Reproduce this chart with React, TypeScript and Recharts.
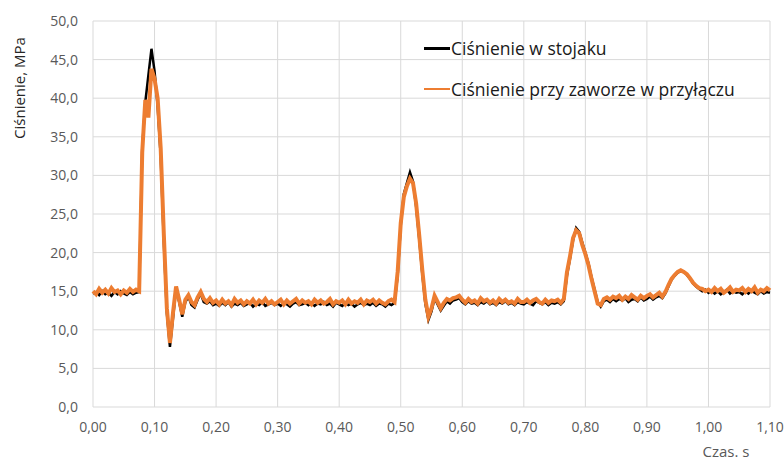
import { LineChart, Line, XAxis, YAxis, CartesianGrid, Legend, Label } from 'recharts'

// sampling step of both pressure traces, seconds
const STEP_MS = 5

// Ciśnienie w stojaku, MPa (one value per 5 ms, from 0,000 s to 1,100 s)
const standPressure = [
    14.7, 14.9, 14.5, 15.0, 14.6, 14.8, 14.4, 14.9, 14.6, 15.0,
    14.7, 14.5, 14.9, 14.6, 14.8, 14.9, 33.5, 39.5, 43.0, 46.4,
    43.5, 39.0, 32.5, 21.5, 12.2, 7.8, 11.5, 15.4, 13.6, 11.7,
    13.6, 14.3, 13.2, 12.9, 13.9, 14.7, 13.6, 13.4, 13.7, 13.2,
    13.4, 13.1, 13.5, 13.2, 13.6, 13.0, 13.4, 13.2, 13.5, 13.1,
    13.3, 13.5, 13.0, 13.4, 13.2, 13.6, 13.1, 13.3, 13.5, 13.2,
    13.4, 13.1, 13.5, 13.3, 13.0, 13.4, 13.6, 13.2, 13.3, 13.5,
    13.2, 13.5, 13.1, 13.4, 13.3, 13.6, 13.2, 13.4, 13.0, 13.5,
    13.3, 13.1, 13.5, 13.2, 13.4, 13.0, 13.3, 13.5, 13.2, 13.4,
    13.2, 13.5, 13.1, 13.4, 13.3, 13.0, 13.4, 13.2, 13.5, 17.0,
    23.5, 27.6, 29.0, 30.4, 29.2, 26.0, 21.8, 17.3, 13.4, 11.3,
    12.4, 14.1, 13.3, 12.5, 13.1, 13.7, 13.4, 13.8, 13.9, 14.1,
    13.6, 13.3, 13.7, 13.4, 13.5, 13.2, 13.6, 13.4, 13.7, 13.3,
    13.5, 13.2, 13.6, 13.4, 13.7, 13.3, 13.5, 13.2, 13.6, 13.4,
    13.3, 13.6, 13.4, 13.2, 13.7, 13.5, 13.3, 13.6, 13.2, 13.5,
    13.4, 13.6, 13.3, 13.7, 17.0, 19.2, 21.6, 23.2, 22.7, 21.3,
    20.0, 18.6, 16.8, 15.2, 13.6, 13.0, 13.7, 13.9, 13.6, 14.0,
    13.7, 14.0, 13.8, 14.1, 13.6, 13.9, 14.0, 13.7, 14.2, 13.8,
    14.0, 14.3, 13.9, 14.2, 14.4, 14.1, 14.7, 15.6, 16.5, 17.0,
    17.4, 17.6, 17.5, 17.1, 16.6, 16.0, 15.6, 15.3, 15.0, 15.2,
    14.8, 15.1, 14.7, 15.0, 14.6, 14.9, 15.2, 14.7, 15.0, 14.8,
    14.9, 14.6, 15.0, 14.7, 15.1, 14.8, 14.6, 15.0, 14.7, 14.9, 14.8,
]

// Ciśnienie przy zaworze w przyłączu, MPa
const valvePressure = [
    15.0, 14.6, 15.3, 14.8, 15.2, 14.7, 15.4, 14.9, 15.1, 14.6,
    15.1, 14.8, 15.3, 14.9, 15.2, 15.0, 33.0, 39.8, 37.5, 43.8,
    42.5, 40.0, 33.5, 22.5, 12.8, 8.3, 12.2, 15.6, 13.9, 12.0,
    13.9, 14.5, 13.6, 13.2, 14.2, 14.9, 14.0, 13.6, 14.1, 13.5,
    13.8, 13.3, 13.9, 13.4, 13.7, 13.2, 14.0, 13.5, 13.8, 13.3,
    13.7, 13.4, 13.9, 13.3, 13.8, 13.5, 14.0, 13.4, 13.7, 13.3,
    13.6, 13.9, 13.3, 13.8, 13.4, 13.7, 14.0, 13.4, 13.8, 13.5,
    13.7, 13.3, 13.9, 13.5, 13.8, 13.4, 13.6, 14.0, 13.3, 13.7,
    13.5, 13.8, 13.3, 13.9, 13.4, 13.7, 13.5, 13.9, 13.3, 13.8,
    13.6, 13.9, 13.4, 13.8, 13.5, 13.3, 13.7, 13.9, 13.6, 17.5,
    23.8, 27.2, 28.6, 29.6, 29.0, 26.4, 22.3, 17.8, 13.9, 11.7,
    12.8, 14.4, 13.6, 12.8, 13.5, 14.0, 13.8, 14.1, 14.2, 14.4,
    13.9, 13.5, 14.0, 13.6, 13.8, 13.4, 14.1, 13.7, 13.9, 13.5,
    13.8, 13.4, 14.0, 13.6, 13.9, 13.5, 13.7, 13.4, 14.0, 13.6,
    13.6, 13.9, 13.5, 13.8, 14.0, 13.6, 13.4, 13.9, 13.5, 13.8,
    13.7, 13.9, 13.5, 14.0, 17.4, 19.5, 21.9, 22.9, 22.5, 21.0,
    19.8, 18.4, 16.6, 15.0, 13.4, 13.2, 14.0, 14.2, 13.9, 14.3,
    14.1, 14.4, 13.9, 14.3, 14.0, 14.5, 14.2, 13.9, 14.4, 14.1,
    14.4, 14.6, 14.2, 14.5, 14.8, 14.3, 14.9, 15.8, 16.6, 17.1,
    17.5, 17.7, 17.5, 17.2, 16.7, 16.1, 15.7, 15.4, 15.3, 15.0,
    15.2, 14.9, 15.4, 15.0, 15.3, 14.8, 15.1, 15.5, 14.9, 15.2,
    15.1, 15.4, 14.9, 15.3, 15.0, 15.5, 14.8, 15.2, 15.0, 15.4, 15.1,
]

const xTicks = [0, 0.1, 0.2, 0.3, 0.4, 0.5, 0.6, 0.7, 0.8, 0.9, 1.0, 1.1]
const yTicks = [0, 5, 10, 15, 20, 25, 30, 35, 40, 45, 50]

const seriesNames = {
    stand: 'Ciśnienie w stojaku',
    valve: 'Ciśnienie przy zaworze w przyłączu',
}

const FONT = '"Open Sans", sans-serif'
const TEXT_GRAY = '#595959'
const ORANGE = '#ED7D31'

const chartData = standPressure.map((v, i) => ({
    t: (i * STEP_MS) / 1000,
    stand: v,
    valve: valvePressure[i],
}))

const comma = (v: number, digits: number) => v.toFixed(digits).replace('.', ',')

function LegendBox() {
    const rows = [
        { name: seriesNames.stand, color: '#000000', width: 3 },
        { name: seriesNames.valve, color: ORANGE, width: 2 },
    ]
    return (
        <div style={{ fontFamily: FONT, fontSize: 17.5, color: '#1a1a1a' }}>
            {rows.map((r, i) => (
                <div key={r.name} style={{ display: 'flex', alignItems: 'center', height: 24, marginTop: i === 0 ? 0 : 17 }}>
                    <div style={{ width: 26, height: r.width, background: r.color, marginRight: 1 }} />
                    <span>{r.name}</span>
                </div>
            ))}
        </div>
    )
}

export default function App() {
    return (
        <div style={{ position: 'absolute', left: 0, top: 0, width: 784, height: 461, background: '#fff' }}>
            <LineChart
                width={784}
                height={461}
                data={chartData}
                margin={{ top: 21, right: 14, bottom: 24, left: 0 }}
            >
                <CartesianGrid stroke="#d9d9d9" strokeWidth={1} />
                <XAxis
                    dataKey="t"
                    type="number"
                    domain={[0, 1.1]}
                    ticks={xTicks}
                    tickFormatter={(v: number) => comma(v, 2)}
                    tick={{ fill: TEXT_GRAY, fontSize: 14, fontFamily: FONT }}
                    axisLine={false}
                    tickLine={false}
                    tickMargin={9}
                    height={30}
                    interval={0}
                >
                    <Label
                        content={() => (
                            <text x={726} y={457} textAnchor="middle" fill={TEXT_GRAY} fontSize={15} fontFamily={FONT}>
                                Czas. s
                            </text>
                        )}
                    />
                </XAxis>
                <YAxis
                    type="number"
                    domain={[0, 50]}
                    ticks={yTicks}
                    tickFormatter={(v: number) => comma(v, 1)}
                    tick={{ fill: TEXT_GRAY, fontSize: 14, fontFamily: FONT }}
                    axisLine={false}
                    tickLine={false}
                    tickMargin={9}
                    width={93}
                    interval={0}
                >
                    <Label
                        content={() => (
                            <text
                                x={0}
                                y={0}
                                transform="translate(25 88) rotate(-90)"
                                textAnchor="middle"
                                fill="#262626"
                                fontSize={15}
                                fontFamily={FONT}
                            >
                                Ciśnienie, MPa
                            </text>
                        )}
                    />
                </YAxis>
                <Legend
                    layout="vertical"
                    align="center"
                    verticalAlign="middle"
                    wrapperStyle={{ left: 424, top: 36, width: 'auto' }}
                    content={() => <LegendBox />}
                />
                <Line
                    dataKey="stand"
                    name={seriesNames.stand}
                    type="linear"
                    stroke="#000000"
                    strokeWidth={2.5}
                    dot={false}
                    isAnimationActive={false}
                />
                <Line
                    dataKey="valve"
                    name={seriesNames.valve}
                    type="linear"
                    stroke={ORANGE}
                    strokeWidth={4}
                    dot={false}
                    isAnimationActive={false}
                />
            </LineChart>
        </div>
    )
}
